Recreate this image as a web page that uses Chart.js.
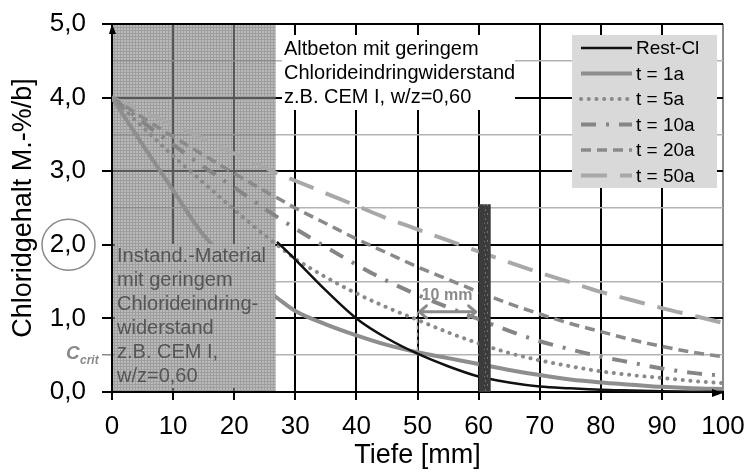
<!DOCTYPE html>
<html><head><meta charset="utf-8">
<script src="https://cdn.jsdelivr.net/npm/chart.js@4.4.1/dist/chart.umd.min.js"></script>
<style>html,body{margin:0;padding:0;background:#fff;}canvas{display:block;}</style>
</head><body>
<canvas id="c" width="749" height="472"></canvas>
<script>
// ---- data ----
const depths = [0,5,10,15,20,25,27,30,35,40,45,50,55,60,65,70,75,80,85,90,95,100];
const restCl = [null,null,null,null,null,null,2.04,1.80,1.38,1.00,0.73,0.52,0.35,0.21,0.13,0.075,0.05,0.03,0.02,0.01,0.005,0.0];
const t1a  = [4.0,3.36,2.74,2.13,1.72,1.40,1.28,1.10,0.92,0.77,0.64,0.54,0.46,0.38,0.30,0.23,0.17,0.13,0.10,0.07,0.05,0.04];
const t5a  = [4.0,3.60,3.21,2.84,2.48,2.13,2.00,1.81,1.56,1.34,1.15,0.98,0.81,0.66,0.53,0.43,0.35,0.28,0.23,0.19,0.15,0.12];
const t10a = [4.0,3.67,3.36,3.06,2.78,2.49,2.38,2.22,1.97,1.73,1.51,1.32,1.15,0.99,0.83,0.69,0.58,0.48,0.40,0.32,0.26,0.22];
const t20a = [4.0,3.73,3.47,3.22,2.97,2.73,2.64,2.50,2.29,2.08,1.89,1.70,1.53,1.36,1.20,1.06,0.93,0.82,0.71,0.62,0.54,0.48];
const t50a = [4.0,3.81,3.63,3.44,3.24,3.05,2.97,2.87,2.70,2.53,2.36,2.21,2.06,1.91,1.76,1.62,1.49,1.36,1.25,1.14,1.04,0.94];
const seriesLabels = ['Rest-Cl','t = 1a','t = 5a','t = 10a','t = 20a','t = 50a'];
const xTickValues = [0,10,20,30,40,50,60,70,80,90,100];
const yTickValues = [0,1,2,3,4,5];
const yTickLabels = ['0,0','1,0','2,0','3,0','4,0','5,0'];
const rebarDepth = [61,61];
const rebarValues = [0,2.55];
const measureDepths = [50,60];
const measureLevel = 1.09;
const measureFoot = 0.53;
const measureLabel = '10 mm';
const repairZone = [0,26.8];
const cCritLevel = 0.5;
const circledValue = 2;
const noteOld = ['Altbeton mit geringem','Chlorideindringwiderstand','z.B. CEM I, w/z=0,60'];
const noteRepair = ['Instand.-Material','mit geringem','Chlorideindring-','widerstand','z.B. CEM I,','w/z=0,60'];

// ---- styles ----
const F = "'Liberation Sans', Arial, sans-serif";
const styles = [
  {color:'#111111', width:2.5, dash:[], cap:'butt'},
  {color:'#8e8e8e', width:4, dash:[], cap:'butt'},
  {color:'#8a8a8a', width:4, dash:[0.1,7.6], cap:'round'},
  {color:'#858585', width:4, dash:[15,10,3,10], cap:'butt'},
  {color:'#8a8a8a', width:3.5, dash:[10,6], cap:'butt'},
  {color:'#a8a8a8', width:4, dash:[26,13], cap:'butt'}
];
const seriesValues = [restCl,t1a,t5a,t10a,t20a,t50a];

const canvas = document.getElementById('c');
const ctx = canvas.getContext('2d');

function makeShade(){
  const c = document.createElement('canvas'); c.width=3; c.height=3;
  const g = c.getContext('2d');
  g.fillStyle='rgba(140,140,140,0.6)'; g.fillRect(0,0,3,3);
  g.fillStyle='rgba(105,105,105,0.35)'; g.fillRect(0,0,3,1); g.fillRect(0,1,1,2);
  return ctx.createPattern(c,'repeat');
}
function makeRebar(){
  const c = document.createElement('canvas'); c.width=12; c.height=9;
  const g = c.getContext('2d');
  g.fillStyle='#3c3c3c'; g.fillRect(0,0,12,9);
  g.fillStyle='#707070'; g.fillRect(5,2,1,2); g.fillRect(7,6,1,2); g.fillRect(4,7,1,1);
  return ctx.createPattern(c,'repeat');
}
const shade = makeShade();

const datasets = seriesValues.map((vals,i)=>({
  label: seriesLabels[i],
  data: depths.map((d,k)=> vals[k]==null ? null : {x:d,y:vals[k]}).filter(p=>p),
  borderColor: styles[i].color,
  borderWidth: styles[i].width,
  borderDash: styles[i].dash,
  borderCapStyle: styles[i].cap,
  pointRadius: 0,
  fill: false,
  cubicInterpolationMode: 'monotone'
}));
datasets.push({
  label: 'Bewehrung',
  data: rebarDepth.map((d,k)=>({x:d,y:rebarValues[k]})),
  borderColor: makeRebar(),
  borderWidth: 12,
  borderCapStyle: 'butt',
  pointRadius: 0,
  order: -1
});

const isInt = v => Math.abs(v - Math.round(v)) < 1e-9;

const decor = {
  id:'decor',
  beforeDatasetsDraw(chart){
    const {ctx, chartArea:a, scales:{x,y}} = chart;
    ctx.save();
    const x0 = x.getPixelForValue(repairZone[0]), x1 = x.getPixelForValue(repairZone[1]);
    ctx.fillStyle = shade;
    ctx.fillRect(x0+1, a.top+1, x1-x0-1, a.bottom-a.top-2);
    // old concrete note box
    ctx.fillStyle = '#fff';
    ctx.fillRect(282, 35, 233, 75);
    ctx.fillStyle = '#000';
    ctx.font = '20px ' + F;
    ctx.textBaseline = 'middle';
    ctx.textAlign = 'left';
    noteOld.forEach((t,i)=> ctx.fillText(t, 284, 49 + i*24));
    ctx.restore();
  },
  afterDatasetsDraw(chart){
    const {ctx, chartArea:a, scales:{x,y}} = chart;
    ctx.save();
    // repair note box (covers curves)
    ctx.fillStyle = '#fff';
    ctx.fillRect(115, 244, 160, 144);
    ctx.fillStyle = shade;
    ctx.fillRect(115, 244, 160, 144);
    ctx.fillStyle = '#555555';
    ctx.font = '20px ' + F;
    ctx.textBaseline = 'middle';
    ctx.textAlign = 'left';
    noteRepair.forEach((t,i)=> ctx.fillText(t, 117, 256 + i*24));

    // measure arrow
    const mx0 = x.getPixelForValue(measureDepths[0]), mx1 = x.getPixelForValue(measureDepths[1]);
    const my = y.getPixelForValue(measureLevel), myf = y.getPixelForValue(measureFoot);
    ctx.strokeStyle = '#9a9a9a'; ctx.lineWidth = 1.5; ctx.setLineDash([4,3]);
    ctx.beginPath(); ctx.moveTo(mx0, my); ctx.lineTo(mx0, myf); ctx.stroke();
    ctx.setLineDash([]);
    ctx.strokeStyle = '#8a8a8a'; ctx.lineWidth = 3; ctx.lineCap='round'; ctx.lineJoin='round';
    ctx.beginPath(); ctx.moveTo(mx0+2, my); ctx.lineTo(mx1-3, my); ctx.stroke();
    ctx.beginPath(); ctx.moveTo(mx0+9, my-6); ctx.lineTo(mx0+2, my); ctx.lineTo(mx0+9, my+6); ctx.stroke();
    ctx.beginPath(); ctx.moveTo(mx1-10, my-6); ctx.lineTo(mx1-3, my); ctx.lineTo(mx1-10, my+6); ctx.stroke();
    ctx.fillStyle = '#8a8a8a'; ctx.font = 'bold 16px ' + F; ctx.textAlign='center'; ctx.textBaseline='middle';
    ctx.fillText(measureLabel, (mx0+mx1)/2 - 1, my - 16);

    // legend
    ctx.fillStyle = '#d9d9d9';
    ctx.fillRect(572, 35, 145, 153);
    ctx.textAlign='left'; ctx.textBaseline='middle'; ctx.font = '19px ' + F;
    seriesLabels.forEach((lab,i)=>{
      const cy = 48 + i*25.5;
      const s = styles[i];
      ctx.strokeStyle = s.color; ctx.lineWidth = s.width; ctx.setLineDash(s.dash); ctx.lineCap = s.cap;
      ctx.beginPath(); ctx.moveTo(581, cy); ctx.lineTo(632, cy); ctx.stroke();
      ctx.setLineDash([]);
      ctx.fillStyle = '#000';
      ctx.fillText(lab, 636, cy+1);
    });

    // circle around 2,0 label
    const cyc = y.getPixelForValue(circledValue);
    ctx.strokeStyle = '#8a8a8a'; ctx.lineWidth = 1.5;
    ctx.beginPath(); ctx.ellipse(68.5, cyc, 26.5, 25.5, 0, 0, Math.PI*2); ctx.stroke();

    // C_crit
    const cc = y.getPixelForValue(cCritLevel);
    ctx.fillStyle = '#8a8a8a'; ctx.textAlign='left'; ctx.textBaseline='alphabetic';
    ctx.font = 'italic bold 19px ' + F; ctx.fillText('C', 66, cc + 4);
    ctx.font = 'italic bold 12px ' + F; ctx.fillText('crit', 80, cc + 9);

    // axis arrows
    ctx.fillStyle = '#000';
    ctx.beginPath(); ctx.moveTo(a.left, a.top); ctx.lineTo(a.left-3, a.top+10); ctx.lineTo(a.left+4, a.top+10); ctx.closePath(); ctx.fill();
    ctx.beginPath(); ctx.moveTo(a.right, a.bottom+1); ctx.lineTo(a.right-11, a.bottom-3); ctx.lineTo(a.right-11, a.bottom+5); ctx.closePath(); ctx.fill();
    ctx.restore();
  }
};

new Chart(ctx, {
  type:'line',
  data:{datasets},
  options:{
    responsive:false, animation:false,
    layout:{padding:{left:0,right:26,top:24,bottom:0}},
    plugins:{legend:{display:false}, tooltip:{enabled:false}},
    scales:{
      x:{
        type:'linear', min:0, max:100,
        afterBuildTicks(s){ s.ticks = xTickValues.map(v=>({value:v})); },
        ticks:{autoSkip:false, maxRotation:0, color:'#000', padding:11, font:{family:F, size:26},
          callback:v=>String(v)},
        grid:{color:c=> (c.tick && c.tick.value===100) ? '#8a8a8a' : '#000', lineWidth:2, tickLength:8, tickColor:'#000'},
        border:{color:'#000', width:2},
        title:{display:true, text:'Tiefe [mm]', color:'#000', font:{family:F, size:27}, padding:{top:3,bottom:0}},
        afterFit(s){ s.height = 80; s.paddingLeft = 0; s.paddingRight = 0; }
      },
      y:{
        type:'linear', min:0, max:5,
        ticks:{stepSize:0.5, autoSkip:false, color:'#000', padding:16, font:{family:F, size:26},
          callback:v=>{ const i = yTickValues.findIndex(t=>Math.abs(t-v)<1e-9); return i>=0 ? yTickLabels[i] : ''; }},
        grid:{
          color:c=> (c.tick && isInt(c.tick.value)) ? '#000' : '#b4b4b4',
          lineWidth:c=> (c.tick && isInt(c.tick.value)) ? 2 : 1.5,
          tickLength:10,
          tickColor:c=> (c.tick && isInt(c.tick.value)) ? '#000' : (c.tick && Math.abs(c.tick.value-cCritLevel)<1e-9 ? '#8a8a8a' : 'rgba(0,0,0,0)')
        },
        border:{color:'#000', width:2},
        title:{display:true, text:'Chloridgehalt M.-%/b]', color:'#000', font:{family:F, size:27}, padding:{top:7,bottom:0}},
        afterFit(s){ s.width = 112; s.paddingTop = 0; s.paddingBottom = 0; }
      }
    }
  },
  plugins:[decor]
});
</script>
</body></html>
